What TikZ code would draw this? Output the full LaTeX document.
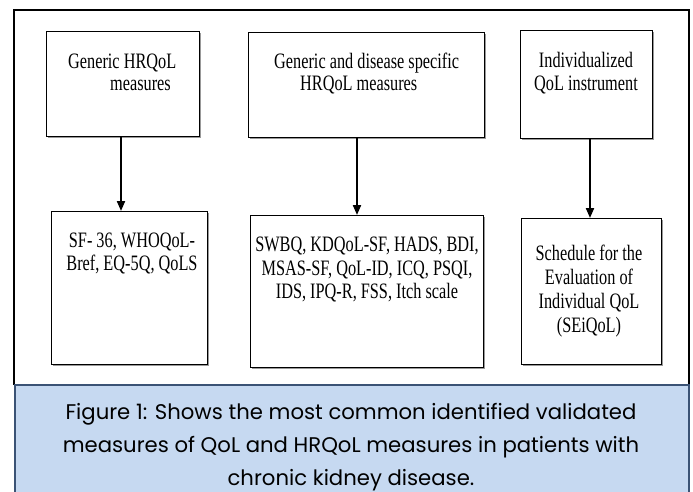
\documentclass[tikz,border=0pt]{standalone}
\usepackage{fontspec}
\newfontfamily\boxfont[FakeStretch=0.74]{Liberation Serif}
\newfontfamily\capfont{Poppins}
\usetikzlibrary{arrows.meta,shadows}
\definecolor{capfill}{HTML}{C6D9F1}
\definecolor{capdraw}{HTML}{3B5375}
\begin{document}
\begin{tikzpicture}[x=1pt,y=-1pt,
  box/.style={draw=black, line width=1.2pt, fill=white, inner sep=0pt, anchor=north west,
    drop shadow={shadow xshift=1.4pt,shadow yshift=-1.4pt,fill=black!40,opacity=1}},
  txt/.style={inner sep=0pt, font=\boxfont\fontsize{22}{22}\selectfont},
  arr/.style={line width=2pt, -{Triangle[length=10pt,width=8pt]}},
]
\useasboundingbox (0,0) rectangle (693,491);
\fill[white] (0,0) rectangle (693,491);
% outer frame
\draw[line width=2pt] (14,385) -- (14,10) -- (689,10) -- (689,385);
% caption box
\node[anchor=north west, fill=capfill, draw=capdraw, line width=1.5pt, inner sep=0pt,
      minimum width=674pt, minimum height=130pt] (cap) at (14,384) {};
\node[anchor=base, align=center, inner sep=0pt, font=\capfont\fontsize{21.2}{33}\selectfont] (ct) at (351,485)
  {Figure 1: Shows the most common identified validated\\measures of QoL and HRQoL measures in patients with\\chronic kidney disease.};
% boxes
\node[box, minimum width=153pt, minimum height=105pt] (b1) at (46,31) {};
\node[box, minimum width=236pt, minimum height=105pt] (b2) at (248,32) {};
\node[box, minimum width=132pt, minimum height=108pt] (b3) at (520,30) {};
\node[box, minimum width=156pt, minimum height=153pt] (b4) at (51,211) {};
\node[box, minimum width=233pt, minimum height=152pt] (b5) at (250,215) {};
\node[box, minimum width=140pt, minimum height=146pt] (b6) at (521,218) {};
% texts (base anchor = baseline of the last line)
\node[txt, anchor=base west, align=left] (t1) at (68,90) {Generic HRQoL\\\hspace*{42pt}measures};
\node[txt, anchor=base west, align=left] (t2) at (274,90) {Generic and disease specific\\\hspace*{26pt}HRQoL measures};
\node[txt, anchor=base, align=center, font=\boxfont\fontsize{22}{23}\selectfont] (t3) at (586,90) {Individualized\\QoL instrument};
\node[txt, anchor=base, align=center, font=\boxfont\fontsize{22}{23}\selectfont] (t4) at (132,270) {SF- 36, WHOQoL-\\Bref, EQ-5Q, QoLS};
\node[txt, anchor=base, align=center, font=\boxfont\fontsize{22}{23.5}\selectfont] (t5) at (367,298.5) {SWBQ, KDQoL-SF, HADS, BDI,\\MSAS-SF, QoL-ID, ICQ, PSQI,\\IDS, IPQ-R, FSS, Itch scale};
\node[txt, anchor=base, align=center, font=\boxfont\fontsize{22}{23.7}\selectfont] (t6) at (589,332) {Schedule for the\\Evaluation of\\Individual QoL\\(SEiQoL)};
% arrows
\coordinate (a1) at (121,0);
\coordinate (a2) at (357,0);
\coordinate (a3) at (590,0);
\draw[arr] (b1.south -| a1) -- (b4.north -| a1);
\draw[arr] (b2.south -| a2) -- (b5.north -| a2);
\draw[arr] (b3.south -| a3) -- (b6.north -| a3);
\end{tikzpicture}
\end{document}
